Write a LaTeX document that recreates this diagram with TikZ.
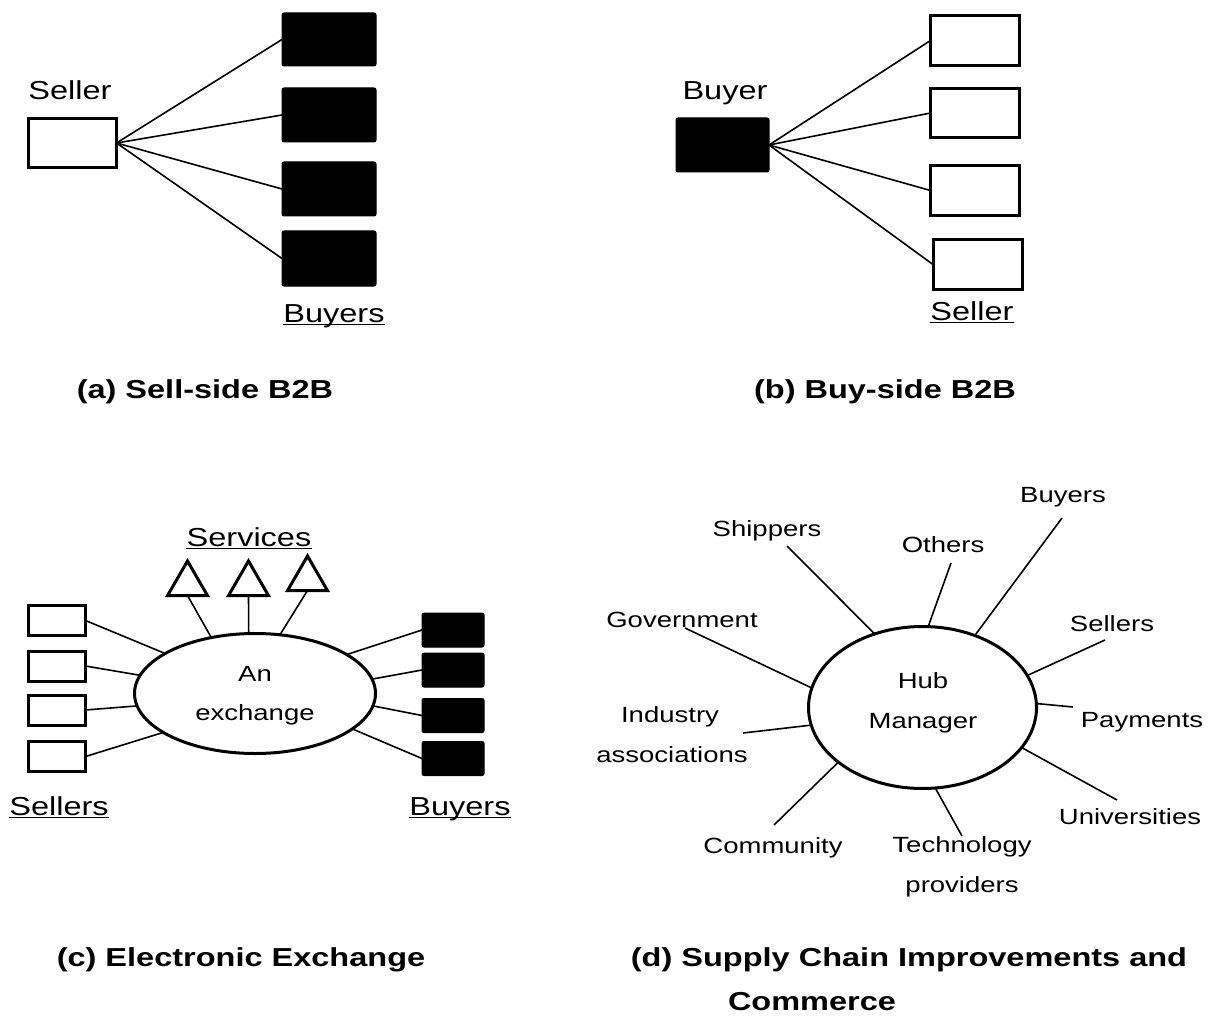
\documentclass[tikz,border=0pt]{standalone}
\usepackage{fontspec}
\newfontfamily\lab[FakeStretch=1.25]{Liberation Sans}
\usetikzlibrary{shapes.geometric}
\begin{document}
\begin{tikzpicture}[x=1pt,y=-1pt,
  big/.style={font=\lab\fontsize{26}{31}\selectfont, inner sep=0pt, anchor=base},
  small/.style={font=\lab\fontsize{22}{26}\selectfont, inner sep=0pt, anchor=base},
  capt/.style={font=\lab\bfseries\fontsize{26}{31}\selectfont, inner sep=0pt, anchor=base},
  wbox/.style={draw, line width=3pt, fill=white, inner sep=0pt, outer sep=0pt},
  bbox/.style={draw, fill=black, rounded corners=2pt, inner sep=0pt, outer sep=0pt, line width=1pt},
  conn/.style={line width=1.6pt},
  ul/.style={line width=1.3pt},
  oval/.style={draw, ellipse, line width=3pt, inner sep=0pt, outer sep=0pt},
  tri/.style={draw, regular polygon, regular polygon sides=3, line width=3pt, inner sep=0pt, outer sep=0pt, minimum size=46pt}
]
\useasboundingbox (0,0) rectangle (1217,1016);

% ---------- (a) Sell-side B2B ----------
\node[wbox, minimum width=88pt, minimum height=49pt] (aS) at (72.5,143) {};
\node[big] (aSl) at (70,100) {Seller};
\node[bbox, minimum width=94pt, minimum height=53pt] (aB1) at (329,39.5) {};
\node[bbox, minimum width=94pt, minimum height=54pt] (aB2) at (329,115) {};
\node[bbox, minimum width=94pt, minimum height=54pt] (aB3) at (329,189) {};
\node[bbox, minimum width=94pt, minimum height=55pt] (aB4) at (329,258.5) {};
\foreach \i in {1,2,3,4} \draw[conn] (aS.east) -- (aB\i.west);
\node[big] (aBl) at (334,322) {Buyers};
\draw[ul] ([yshift=-2.5pt]aBl.base west) -- ([yshift=-2.5pt]aBl.base east);
\node[capt] (capa) at (205,398) {(a) Sell-side B2B};

% ---------- (b) Buy-side B2B ----------
\node[bbox, minimum width=93pt, minimum height=54pt] (bB) at (722.5,145) {};
\node[big] (bBl) at (725,100) {Buyer};
\node[wbox, minimum width=89pt, minimum height=50pt] (bS1) at (975,40.5) {};
\node[wbox, minimum width=89pt, minimum height=49pt] (bS2) at (975,113) {};
\node[wbox, minimum width=89pt, minimum height=50pt] (bS3) at (975,190.5) {};
\node[wbox, minimum width=89pt, minimum height=50pt] (bS4) at (977.5,264.5) {};
\foreach \i in {1,2,3,4} \draw[conn] (bB.east) -- (bS\i.west);
\node[big] (bSl) at (972,320) {Seller};
\draw[ul] ([yshift=-2.5pt]bSl.base west) -- ([yshift=-2.5pt]bSl.base east);
\node[capt] (capb) at (885,398) {(b) Buy-side B2B};

% ---------- (c) Electronic Exchange ----------
\node[oval, minimum width=241pt, minimum height=120pt] (ex) at (255,693.5) {};
\node[small] (exa) at (255,681) {An};
\node[small] (exb) at (255,720) {exchange};
\node[tri] (t1) at (187.5,584) {};
\node[tri] (t2) at (248.5,584) {};
\node[tri] (t3) at (307.5,579) {};
\draw[conn] (t1.south) -- (ex.128.3);
\draw[conn] (t2.south) -- (ex.96.5);
\draw[conn] (t3.south) -- (ex.67.9);
\node[big] (svl) at (249,546) {Services};
\draw[ul] ([yshift=-2.5pt]svl.base west) -- ([yshift=-2.5pt]svl.base east);
\node[wbox, minimum width=57pt, minimum height=30pt] (cS1) at (57,620.5) {};
\node[wbox, minimum width=57pt, minimum height=30pt] (cS2) at (57,666) {};
\node[wbox, minimum width=57pt, minimum height=30pt] (cS3) at (57,710) {};
\node[wbox, minimum width=57pt, minimum height=30pt] (cS4) at (57,756.5) {};
\draw[conn] (cS1.east) -- (ex.156.4);
\draw[conn] (cS2.east) -- (ex.171.2);
\draw[conn] (cS3.east) -- (ex.186.3);
\draw[conn] (cS4.east) -- (ex.203.6);
\node[bbox, minimum width=62pt, minimum height=34pt] (cB1) at (453,630) {};
\node[bbox, minimum width=62pt, minimum height=34pt] (cB2) at (453,670) {};
\node[bbox, minimum width=62pt, minimum height=34pt] (cB3) at (453,715.5) {};
\node[bbox, minimum width=62pt, minimum height=34pt] (cB4) at (453,758.5) {};
\draw[conn] (cB1.west) -- (ex.23.2);
\draw[conn] (cB2.west) -- (ex.7.4);
\draw[conn] (cB3.west) -- (ex.-6.8);
\draw[conn] (cB4.west) -- (ex.-20.6);
\node[big] (cSl) at (59,815) {Sellers};
\draw[ul] ([yshift=-2.5pt]cSl.base west) -- ([yshift=-2.5pt]cSl.base east);
\node[big] (cBl) at (460,815) {Buyers};
\draw[ul] ([yshift=-2.5pt]cBl.base west) -- ([yshift=-2.5pt]cBl.base east);
\node[capt] (capc) at (241,966) {(c) Electronic Exchange};

% ---------- (d) Supply Chain ----------
\node[oval, minimum width=228pt, minimum height=162pt] (hub) at (922.5,707.5) {};
\node[small] (hubA) at (923,688) {Hub};
\node[small] (hubB) at (923,728) {Manager};

\node[small] (lBuy) at (1063,502) {Buyers};
\node[small] (lShip) at (767,536) {Shippers};
\node[small] (lOth) at (943,552) {Others};
\node[small] (lGov) at (682,627) {Government};
\node[small] (lSel) at (1112,631) {Sellers};
\node[small] (lInd) at (670,722) {Industry};
\node[small] (lInd2) at (672,762) {associations};
\node[small] (lPay) at (1142,727) {Payments};
\node[small] (lUni) at (1130,824) {Universities};
\node[small] (lCom) at (773,853) {Community};
\node[small] (lTec) at (962,852) {Technology};
\node[small] (lTec2) at (962,892) {providers};

\coordinate (cShip) at (787,546);
\coordinate (cOth) at (951,563);
\coordinate (cBuy) at (1062,518);
\coordinate (cSel) at (1105,640);
\coordinate (cPay) at (1073,707);
\coordinate (cUni) at (1117,800);
\coordinate (cTec) at (962,836);
\coordinate (cCom) at (774,825);
\coordinate (cInd) at (743,733);
\coordinate (cGov) at (685,628);

\draw[conn] (cShip) -- (hub.123.8);
\draw[conn] (cOth) -- (hub.86.2);
\draw[conn] (cBuy) -- (hub.54.8);
\draw[conn] (cSel) -- (hub.17.0);
\draw[conn] (cPay) -- (hub.2.2);
\draw[conn] (cUni) -- (hub.-22.6);
\draw[conn] (cTec) -- (hub.-81.7);
\draw[conn] (cCom) -- (hub.213.2);
\draw[conn] (cInd) -- (hub.189.5);
\draw[conn] (cGov) -- (hub.170.9);

\node[capt] (capd) at (909,966) {(d) Supply Chain Improvements and};
\node[capt] (capd2) at (812,1010) {Commerce};
\end{tikzpicture}
\end{document}
